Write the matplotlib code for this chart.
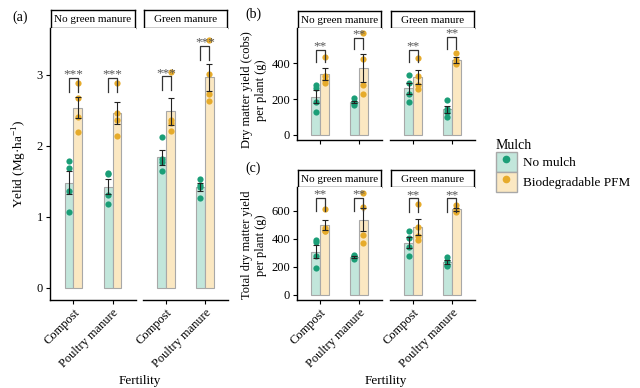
import numpy as np
import matplotlib
matplotlib.use("Agg")
import matplotlib.pyplot as plt
from matplotlib.patches import Patch
from matplotlib.lines import Line2D

plt.rcParams["font.family"] = ["Liberation Serif", "DejaVu Serif"]
plt.rcParams["mathtext.fontset"] = "custom"
plt.rcParams["mathtext.rm"] = "Liberation Serif"

fertility = ["Compost", "Poultry manure"]
green_manure = ["No green manure", "Green manure"]
mulch = ["No mulch", "Biodegradable PFM"]

# replicate values, order: NGM compost, NGM poultry, GM compost, GM poultry
yield_no_mulch = [[1.79, 1.69, 1.37, 1.07], [1.62, 1.60, 1.31, 1.18],
                  [2.12, 1.81, 1.77, 1.65], [1.53, 1.45, 1.42, 1.27]]
yield_pfm = [[2.89, 2.67, 2.41, 2.19], [2.89, 2.46, 2.36, 2.14],
             [3.04, 2.37, 2.32, 2.21], [3.49, 3.01, 2.73, 2.63]]
yield_sig = [2.96, 2.96, 2.98, 3.41]

cobs_no_mulch = [[280, 265, 185, 130], [205, 185, 180, 170],
                 [335, 290, 230, 185], [195, 145, 130, 102]]
cobs_pfm = [[435, 330, 310, 290], [568, 423, 279, 227],
            [433, 330, 280, 255], [460, 420, 400, 395]]
cobs_sig = [475, 544, 475, 546]

total_no_mulch = [[390, 375, 275, 195], [285, 275, 270, 260],
                  [459, 410, 340, 280], [270, 245, 215, 205]]
total_pfm = [[612, 475, 460, 455], [731, 626, 428, 369],
             [650, 485, 420, 395], [640, 615, 600, 590]]
total_sig = [695, 695, 690, 690]

C_PT = ["#1b9e77", "#e6ab2b"]
C_FILL = ["#c2e6db", "#fbe8c2"]
W, H = 640, 388


def px_axes(fig, x0, y0, x1, y1):
    return fig.add_axes([x0 / W, 1 - y1 / H, (x1 - x0) / W, (y1 - y0) / H])


def draw_panel(fig, xs, ytop, ybot, strip_top, nm, pfm, sig, stars, ylim, yticks,
               leg, labels):
    for f in range(2):
        x0, x1 = xs[f]
        st = px_axes(fig, x0 + 1, strip_top, x1 - 1, ytop)
        st.set_xticks([]); st.set_yticks([])
        for s in st.spines.values():
            s.set_linewidth(1.0)
        st.text(0.5, 0.45, green_manure[f], ha="center", va="center", fontsize=8,
                transform=st.transAxes)

        ax = px_axes(fig, x0, ytop, x1, ybot)
        ax.set_xlim(0.4, 2.6)
        ax.set_ylim(*ylim)
        ax.spines[["top", "right"]].set_visible(False)
        ax.spines["bottom"].set_linewidth(1.0)
        for i in range(2):
            k = f * 2 + i
            c = i + 1
            for m, vals in enumerate([nm[k], pfm[k]]):
                xc = c - 0.1125 + m * 0.225
                v = np.array(vals, dtype=float)
                mean = v.mean()
                se = v.std(ddof=1) / np.sqrt(len(v))
                ax.bar(xc, mean, width=0.225, color=C_FILL[m], edgecolor="#a8a8a8",
                       linewidth=0.8, zorder=1)
                ax.scatter(np.full(len(v), xc), v, s=20, color=C_PT[m], zorder=3,
                           linewidths=0)
                ax.errorbar(xc, mean, yerr=se, color="#222222", capsize=2.4,
                            elinewidth=0.8, capthick=0.8, zorder=4)
            xa, xb = c - 0.1125, c + 0.1125
            y = sig[k]
            ax.plot([xa, xa, xb, xb], [y - leg, y, y, y - leg], color="#333333",
                    lw=0.9, zorder=5)
            ax.text(c, y - leg * 0.2, stars, ha="center", va="bottom", fontsize=9.5,
                    color="#555555")
        ax.set_xticks([1, 2])
        ax.tick_params(axis="x", length=3, width=0.8, pad=2)
        if labels:
            ax.set_xticklabels(fertility, rotation=45, ha="right",
                               rotation_mode="anchor", fontsize=9)
        else:
            ax.set_xticklabels([])
        if f == 0:
            ax.set_yticks(yticks)
            ax.tick_params(axis="y", length=3, width=0.8, labelsize=9, pad=2)
            ax.spines["left"].set_linewidth(1.0)
        else:
            ax.spines["left"].set_visible(False)
            ax.set_yticks([])


fig = plt.figure(figsize=(6.4, 3.88), dpi=100)

draw_panel(fig, [(50, 136), (143, 228)], 28, 300, 10, yield_no_mulch, yield_pfm,
           yield_sig, "***", (-0.17, 3.66), [0, 1, 2, 3], 0.2, True)
draw_panel(fig, [(297, 382), (390, 475)], 28, 140, 11, cobs_no_mulch, cobs_pfm,
           cobs_sig, "**", (-28, 598), [0, 200, 400], 65, False)
draw_panel(fig, [(297, 382), (390, 475)], 187, 300, 170, total_no_mulch, total_pfm,
           total_sig, "**", (-36, 771), [0, 200, 400, 600], 95, True)

fig.text(12 / W, 1 - 17 / H, "(a)", fontsize=10, ha="left", va="center")
fig.text(245 / W, 1 - 14 / H, "(b)", fontsize=10, ha="left", va="center")
fig.text(245 / W, 1 - 168 / H, "(c)", fontsize=10, ha="left", va="center")

fig.text(20 / W, 1 - 164 / H, "Yelid (Mg·ha$^{-1}$)", rotation=90, fontsize=9.5,
         ha="center", va="center")
fig.text(254 / W, 1 - 90 / H, "Dry matter yield (cobs)\nper plant (g)", rotation=90,
         fontsize=9, ha="center", va="center", linespacing=1.15)
fig.text(254 / W, 1 - 245 / H, "Total dry matter yield\nper plant (g)", rotation=90,
         fontsize=9, ha="center", va="center", linespacing=1.15)
fig.text(140 / W, 1 - 381 / H, "Fertility", fontsize=9.5, ha="center", va="center")
fig.text(386 / W, 1 - 381 / H, "Fertility", fontsize=9.5, ha="center", va="center")

handles = [(Patch(facecolor=C_FILL[m], edgecolor="#a8a8a8"),
            Line2D([], [], marker="o", ls="", color=C_PT[m], markersize=4.5))
           for m in range(2)]
fig.legend(handles, mulch, title="Mulch", loc="upper left",
           bbox_to_anchor=(485 / W, 1 - 128 / H), frameon=False, fontsize=9.5,
           title_fontsize=10, handlelength=1.6, handleheight=2.0, labelspacing=0,
           handletextpad=0.5, alignment="left", borderpad=0.3)

fig.savefig("out.png", dpi=100)
